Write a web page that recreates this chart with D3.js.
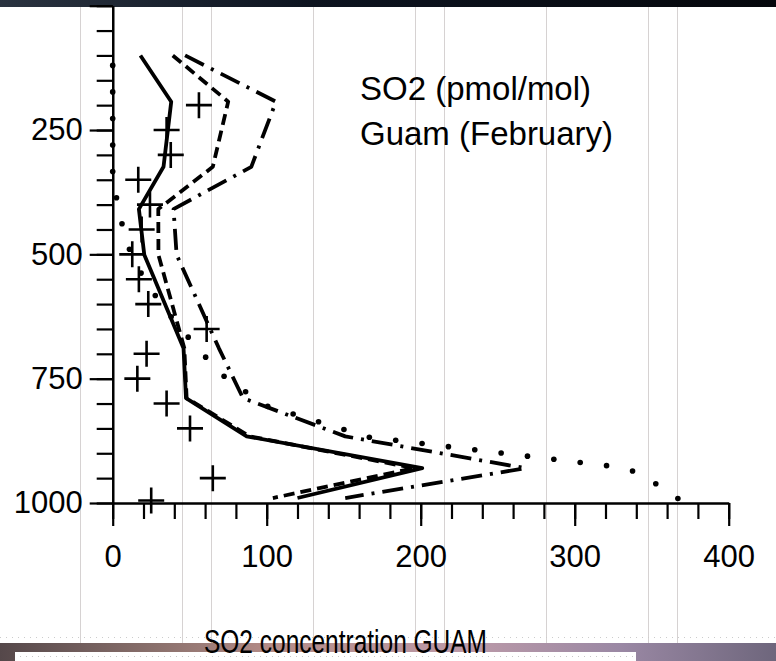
<!DOCTYPE html>
<html>
<head>
<meta charset="utf-8">
<script src="https://cdn.jsdelivr.net/npm/d3@7"></script>
<style>
  html, body { margin: 0; padding: 0; background: #ffffff; }
  svg { display: block; }
</style>
</head>
<body>
<script>
'use strict';

// pressure levels (hPa) of the model profiles
var levels = [100, 193, 324, 409, 501, 689, 789, 866, 930, 990];

// model profiles, SO2 in pmol/mol
var solidValues   = [18, 38, 33, 17, 20.5, 46, 47.6, 87, 201, 120];
var dashedValues  = [39, 75, 65, 29.6, 29.7, 46.5, 48, 89, 196, 104];
var dashDotValues = [47, 106, 90, 39.5, 41.5, 69, 84.6, 151, 268, 151];

// second dataset on its own levels (dotted)
var dottedLevels = [120, 336, 389, 441, 493, 540, 585, 627, 669, 709, 747, 777, 805, 868, 874, 925, 936, 962, 991];
var dottedValues = [0, 0, 2.6, 6.2, 11.2, 18.8, 28.1, 38.3, 49.7, 61, 72.9, 86.6, 100, 167, 184, 321, 338, 353, 367];

// observations (+)
var obsLevels = [200, 250, 300, 350, 400, 450, 500, 550, 600, 650, 700, 750, 800, 850, 950, 995];
var obsValues = [56, 35, 37.7, 16.6, 24.2, 18.8, 12.7, 17, 23.1, 61, 22, 16, 35, 50.2, 65, 25];

var xTickValues = [0, 100, 200, 300, 400];
var yTickValues = [250, 500, 750, 1000];
var labelLines = ["SO2 (pmol/mol)", "Guam (February)"];
var title = "SO2 concentration GUAM";

var width = 776,
    height = 661;

var svg = d3.select("body")
    .append("svg")
    .attr("width", width)
    .attr("height", height);

var defs = svg.append("defs");

// slide background: dark strip on top, nebula band at the bottom
var topGrad = defs.append("linearGradient").attr("id", "topGrad");
topGrad.append("stop").attr("offset", "0%").attr("stop-color", "#2a3340");
topGrad.append("stop").attr("offset", "40%").attr("stop-color", "#0d1420");
topGrad.append("stop").attr("offset", "100%").attr("stop-color", "#05070c");

var botGrad = defs.append("linearGradient").attr("id", "botGrad");
botGrad.append("stop").attr("offset", "0%").attr("stop-color", "#55484a");
botGrad.append("stop").attr("offset", "20%").attr("stop-color", "#8a706c");
botGrad.append("stop").attr("offset", "35%").attr("stop-color", "#b48c88");
botGrad.append("stop").attr("offset", "60%").attr("stop-color", "#bc9aa8");
botGrad.append("stop").attr("offset", "80%").attr("stop-color", "#9a88a4");
botGrad.append("stop").attr("offset", "100%").attr("stop-color", "#6e667c");

var dots = defs.append("pattern")
    .attr("id", "dots")
    .attr("width", 6).attr("height", 6)
    .attr("patternUnits", "userSpaceOnUse");
dots.append("rect").attr("width", 6).attr("height", 6).attr("fill", "#ffffff");
dots.append("rect").attr("x", 2).attr("y", 2).attr("width", 1).attr("height", 1).attr("fill", "#c8c8c8");

var bg = svg.append("g").attr("id", "background");

bg.append("rect")
    .attr("width", width).attr("height", 7)
    .attr("fill", "url(#topGrad)");

// faint vertical rules of the slide template
var ruleOffsets = [80, 182, 211];
var rules = [];
ruleOffsets.forEach(function(o) {
    d3.range(o, width, 233).forEach(function(x) { rules.push(x); });
});
bg.selectAll("line.rule")
    .data(rules)
    .enter()
    .append("line")
    .attr("class", "rule")
    .attr("x1", d => d + 0.5).attr("x2", d => d + 0.5)
    .attr("y1", 7).attr("y2", 643)
    .attr("stroke", "#d6d2d2")
    .attr("stroke-width", 1);

bg.append("line")
    .attr("x1", 0).attr("x2", width)
    .attr("y1", 637.5).attr("y2", 637.5)
    .attr("stroke", "#cccccc")
    .attr("stroke-dasharray", "1,5");

bg.append("rect")
    .attr("y", 643).attr("width", width).attr("height", height - 643)
    .attr("fill", "url(#botGrad)");

bg.append("rect")
    .attr("x", 15).attr("y", 652).attr("width", 621).attr("height", 12)
    .attr("fill", "url(#dots)");

// scales
var x = d3.scaleLinear().domain([0, 400]).range([112.7, 728.7]);
var y = d3.scaleLinear().domain([0, 1000]).range([5.7, 503]);

var plot = svg.append("g").attr("id", "plot");

// axes: minor and major ticks drawn separately
var axisFont = "'Liberation Sans', Arial, sans-serif";

var xMinor = d3.axisBottom(x)
    .tickValues(d3.range(0, 401, 20))
    .tickSize(16).tickSizeOuter(0)
    .tickFormat("");
var xMajor = d3.axisBottom(x)
    .tickValues(xTickValues)
    .tickSize(23).tickSizeOuter(0)
    .tickPadding(19);

var yMinor = d3.axisLeft(y)
    .tickValues(d3.range(0, 1001, 50))
    .tickSize(16).tickSizeOuter(0)
    .tickFormat("");
var yMajor = d3.axisLeft(y)
    .tickValues([0].concat(yTickValues))
    .tickSize(23).tickSizeOuter(0)
    .tickPadding(7)
    .tickFormat(d => d === 0 ? "" : d);

function styleAxis(g) {
    g.selectAll("path, line")
        .attr("stroke", "#000")
        .attr("stroke-width", 2.2);
    g.selectAll("text")
        .attr("fill", "#000")
        .style("font-family", axisFont)
        .style("font-size", "31px");
}

plot.append("g").attr("transform", "translate(0," + y(1000) + ")").call(xMinor).call(styleAxis);
plot.append("g").attr("transform", "translate(0," + y(1000) + ")").call(xMajor).call(styleAxis);
plot.append("g").attr("transform", "translate(" + x(0) + ",0)").call(yMinor).call(styleAxis);
plot.append("g").attr("transform", "translate(" + x(0) + ",0)").call(yMajor).call(styleAxis);

// profile lines
var line = d3.line()
    .x(d => x(d[0]))
    .y(d => y(d[1]));

function profile(values, lvls) {
    return values.map((v, i) => [v, lvls[i]]);
}

var series = [
    { values: dashDotValues, levels: levels, dash: "21,8,3,8" },
    { values: dashedValues, levels: levels, dash: "11,6" },
    { values: solidValues, levels: levels, dash: null }
];

plot.selectAll("path.profile")
    .data(series)
    .enter()
    .append("path")
    .attr("class", "profile")
    .attr("d", d => line(profile(d.values, d.levels)))
    .attr("fill", "none")
    .attr("stroke", "#000")
    .attr("stroke-width", 3.8)
    .attr("stroke-linejoin", "round")
    .attr("stroke-dasharray", d => d.dash);

// dotted profile: round dots evenly spaced along the path, one on each end
var dottedPath = plot.append("path")
    .attr("d", line(profile(dottedValues, dottedLevels)))
    .attr("fill", "none")
    .attr("stroke", "none");
var node = dottedPath.node();
var total = node.getTotalLength();
var nDots = Math.round(total / 26.6);
var step = total / nDots;
plot.append("g")
    .selectAll("circle")
    .data(d3.range(nDots + 1).map(i => node.getPointAtLength(i * step)))
    .enter()
    .append("circle")
    .attr("cx", d => d.x)
    .attr("cy", d => d.y)
    .attr("r", 2.8)
    .attr("fill", "#000");

// observations as plus signs
var arm = 13;
plot.selectAll("path.obs")
    .data(profile(obsValues, obsLevels))
    .enter()
    .append("path")
    .attr("class", "obs")
    .attr("d", "M" + (-arm) + ",0H" + arm + "M0," + (-arm) + "V" + arm)
    .attr("transform", d => "translate(" + x(d[0]) + "," + y(d[1]) + ")")
    .attr("fill", "none")
    .attr("stroke", "#000")
    .attr("stroke-width", 2.6);

// in-plot label
svg.append("g")
    .selectAll("text")
    .data(labelLines)
    .enter()
    .append("text")
    .attr("x", 360)
    .attr("y", (d, i) => 100 + i * 45)
    .style("font-family", axisFont)
    .style("font-size", "33px")
    .attr("fill", "#000")
    .text(d => d);

// caption under the axis
svg.append("text")
    .attr("x", 204)
    .attr("y", 653)
    .attr("textLength", 283)
    .attr("lengthAdjust", "spacingAndGlyphs")
    .style("font-family", "'Liberation Sans Narrow', 'Arial Narrow', 'Liberation Sans', sans-serif")
    .style("font-size", "34px")
    .attr("fill", "#000")
    .text(title);
</script>
</body>
</html>
